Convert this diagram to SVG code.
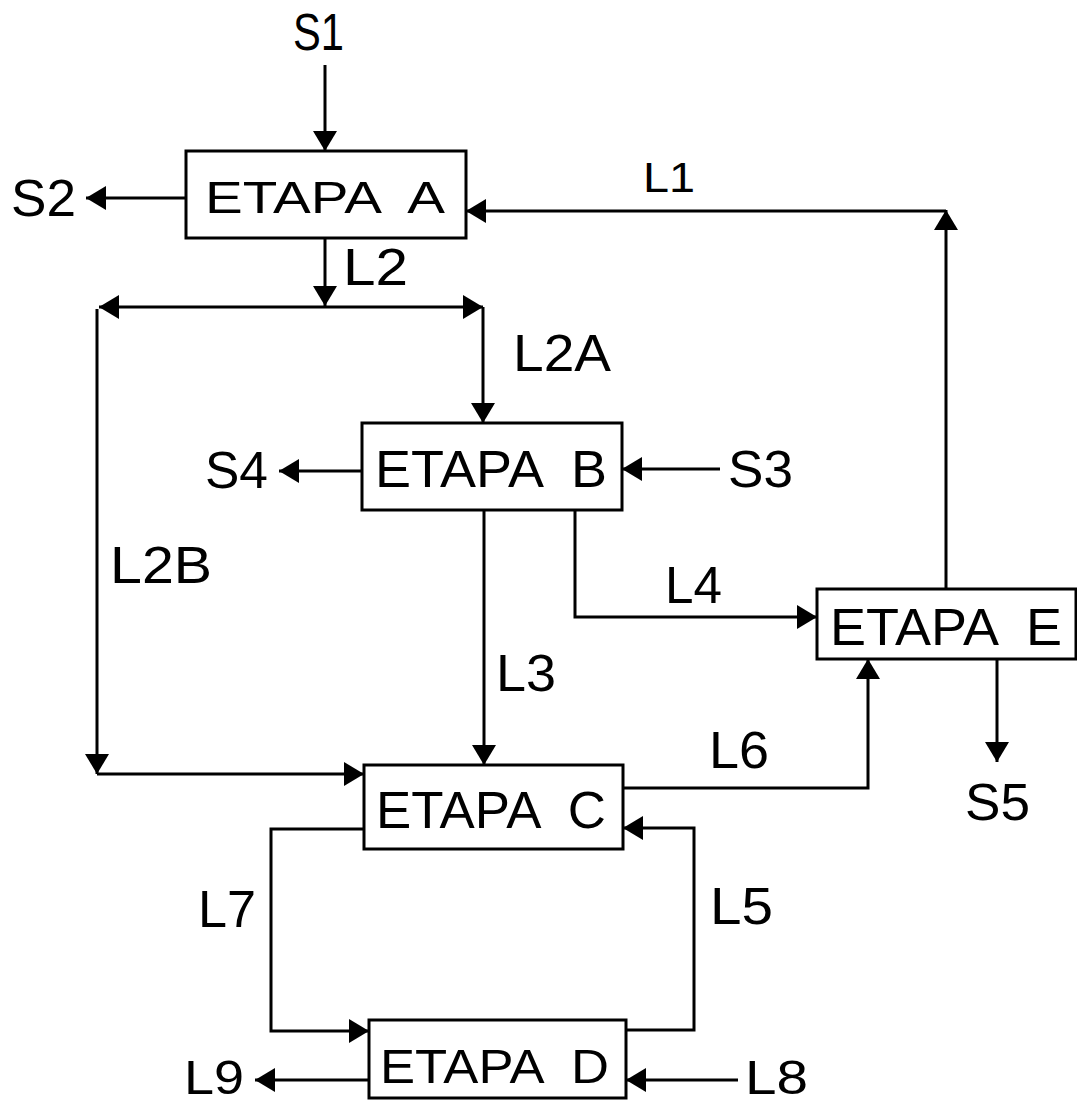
<svg xmlns="http://www.w3.org/2000/svg" width="1077" height="1106" viewBox="0 0 1077 1106">
<style>
.bg{fill:#fff}
.box{fill:#fff;stroke:#000;stroke-width:3}
.ln{fill:none;stroke:#000;stroke-width:3;stroke-linejoin:miter}
.arr{marker-end:url(#ah)}
text{font-family:"Liberation Sans",Arial,sans-serif;fill:#000}
.t{font-size:52px}
.ta{font-size:44px}
.ts{font-size:42px}
.tb{font-size:48px}
</style>
<defs>
<marker id="ah" markerUnits="userSpaceOnUse" viewBox="0 0 20 24" refX="20" refY="12" markerWidth="20" markerHeight="24" orient="auto-start-reverse">
<path d="M0,0 L20,12 L0,24 z" fill="#000"/>
</marker>
</defs>
<rect class="bg" x="0" y="0" width="1077" height="1106"/>

<g id="connectors">
<path id="c-s1" class="ln arr" d="M325,65 V151"/>
<path id="c-s2" class="ln arr" d="M186,198 H86"/>
<path id="c-l2" class="ln arr" d="M325,238 V306"/>
<path id="c-split" class="ln" d="M99,307 H483" marker-start="url(#ah)" marker-end="url(#ah)"/>
<path id="c-l2a" class="ln arr" d="M483,307 V423"/>
<path id="c-l2b-v" class="ln arr" d="M97,309 V774"/>
<path id="c-l2b-h" class="ln arr" d="M97,774 H364"/>
<path id="c-s3" class="ln arr" d="M720,469 H622"/>
<path id="c-s4" class="ln arr" d="M362,471 H279"/>
<path id="c-l3" class="ln arr" d="M484,510 V765"/>
<path id="c-l4" class="ln arr" d="M575,510 V617 H817"/>
<path id="c-l1-v" class="ln arr" d="M946,589 V210"/>
<path id="c-l1-h" class="ln arr" d="M946,211 H466"/>
<path id="c-s5" class="ln arr" d="M997,659 V762"/>
<path id="c-l6" class="ln arr" d="M623,788 H868 V659"/>
<path id="c-l5" class="ln arr" d="M626,1030 H694 V828 H623"/>
<path id="c-l7" class="ln arr" d="M363,829 H271 V1031 H369"/>
<path id="c-l9" class="ln arr" d="M369,1080 H255"/>
<path id="c-l8" class="ln arr" d="M738,1080 H626"/>
</g>

<g id="node-a">
<rect class="box" x="186" y="151" width="280" height="87"/>
<text class="ta" x="205" y="213" textLength="240" lengthAdjust="spacingAndGlyphs" xml:space="preserve">ETAPA  A</text>
</g>
<g id="node-b">
<rect class="box" x="362" y="423" width="260" height="87"/>
<text class="t" x="375" y="487" textLength="232" lengthAdjust="spacingAndGlyphs" xml:space="preserve">ETAPA  B</text>
</g>
<g id="node-c">
<rect class="box" x="364" y="765" width="259" height="84"/>
<text class="t" x="376" y="828" textLength="230" lengthAdjust="spacingAndGlyphs" xml:space="preserve">ETAPA  C</text>
</g>
<g id="node-d">
<rect class="box" x="369" y="1020" width="257" height="78"/>
<text class="tb" x="380" y="1083" textLength="229" lengthAdjust="spacingAndGlyphs" xml:space="preserve">ETAPA  D</text>
</g>
<g id="node-e">
<rect class="box" x="817" y="589" width="259" height="70"/>
<text class="t" x="830" y="645" textLength="232" lengthAdjust="spacingAndGlyphs" xml:space="preserve">ETAPA  E</text>
</g>

<g id="labels">
<text class="t" x="293" y="50" textLength="51" lengthAdjust="spacingAndGlyphs">S1</text>
<text class="t" x="11" y="216" textLength="65" lengthAdjust="spacingAndGlyphs">S2</text>
<text class="ts" x="643" y="192" textLength="52" lengthAdjust="spacingAndGlyphs">L1</text>
<text class="t" x="343" y="285" textLength="65" lengthAdjust="spacingAndGlyphs">L2</text>
<text class="t" x="513" y="371" textLength="98" lengthAdjust="spacingAndGlyphs">L2A</text>
<text class="t" x="205" y="488" textLength="63" lengthAdjust="spacingAndGlyphs">S4</text>
<text class="t" x="728" y="487" textLength="65" lengthAdjust="spacingAndGlyphs">S3</text>
<text class="t" x="110" y="583" textLength="102" lengthAdjust="spacingAndGlyphs">L2B</text>
<text class="t" x="665" y="603" textLength="57" lengthAdjust="spacingAndGlyphs">L4</text>
<text class="t" x="496" y="691" textLength="60" lengthAdjust="spacingAndGlyphs">L3</text>
<text class="t" x="709" y="768" textLength="60" lengthAdjust="spacingAndGlyphs">L6</text>
<text class="t" x="965" y="820" textLength="65" lengthAdjust="spacingAndGlyphs">S5</text>
<text class="t" x="198" y="927" textLength="58" lengthAdjust="spacingAndGlyphs">L7</text>
<text class="t" x="710" y="924" textLength="63" lengthAdjust="spacingAndGlyphs">L5</text>
<text class="tb" x="184" y="1094" textLength="60" lengthAdjust="spacingAndGlyphs">L9</text>
<text class="tb" x="745" y="1094" textLength="63" lengthAdjust="spacingAndGlyphs">L8</text>
</g>
</svg>
